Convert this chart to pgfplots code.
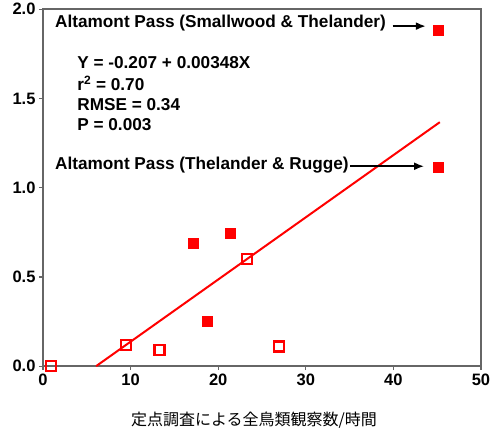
\documentclass[border=0pt]{standalone}
\usepackage{pgfplots}
\pgfplotsset{compat=1.18}
\usepackage{fontspec}
\setmainfont{Liberation Sans}
\newfontfamily\cjk{Noto Sans CJK JP}
\usetikzlibrary{arrows.meta}
\begin{document}
\begin{tikzpicture}
\begin{axis}[
  scale only axis,
  width=438pt, height=357pt,
  xmin=0, xmax=50, ymin=0, ymax=2,
  xtick={0,10,20,30,40,50},
  ytick={0,0.5,1,1.5,2},
  yticklabel style={/pgf/number format/.cd,fixed,fixed zerofill,precision=1},
  /pgf/number format/assume math mode=true,
  tick label style={font=\fontsize{16.5}{19}\selectfont\bfseries},
  tick pos=left, tick align=outside,
  major tick length=4pt,
  axis line style={draw=black!60, line width=1.5pt},
  every tick/.style={black!60, line width=1.2pt},
  clip=false,
  xlabel={\cjk 定点調査による全鳥類観察数/時間},
  xlabel style={font=\fontsize{16}{19}\selectfont, yshift=-20pt, xshift=-8pt},
]
% regression line
\addplot[red, line width=2pt] coordinates {(6.06,0) (45.3,1.367)};
% filled squares
\addplot[only marks, mark=square*, mark size=5pt, red, mark options={fill=red, draw=red}] coordinates {
 (17.2,0.69) (18.7,0.25) (21.4,0.745) (45.1,1.88) (45.1,1.115)};
% open squares
\addplot[only marks, mark=square, mark size=5pt, red, mark options={line width=2.2pt, fill=white}] coordinates {
 (0.9,0.0) (9.45,0.12) (13.3,0.09) (23.3,0.60) (26.9,0.11)};
\node[anchor=west, font=\fontsize{17.2}{20}\selectfont\bfseries, inner sep=0pt] at (axis cs:1.37,1.925) {Altamont Pass (Smallwood \& Thelander)};
\draw[black, line width=1.8pt, -{Latex[length=10pt,width=8pt]}] (axis cs:39.9,1.905) -- (axis cs:43.7,1.905);
\node[anchor=west, font=\fontsize{17.2}{20}\selectfont\bfseries, inner sep=0pt] at (axis cs:1.37,1.128) {Altamont Pass (Thelander \& Rugge)};
\draw[black, line width=1.8pt, -{Latex[length=10pt,width=8pt]}] (axis cs:35.1,1.12) -- (axis cs:43.5,1.12);
\node[anchor=west, font=\fontsize{17.2}{20}\selectfont\bfseries, inner sep=0pt] at (axis cs:3.9,1.703) {Y = -0.207 + 0.00348X};
\node[anchor=west, font=\fontsize{17.2}{20}\selectfont\bfseries, inner sep=0pt] at (axis cs:3.9,1.586) {r\textsuperscript{2} = 0.70};
\node[anchor=west, font=\fontsize{17.2}{20}\selectfont\bfseries, inner sep=0pt] at (axis cs:3.9,1.467) {RMSE = 0.34};
\node[anchor=west, font=\fontsize{17.2}{20}\selectfont\bfseries, inner sep=0pt] at (axis cs:3.9,1.355) {P = 0.003};
\end{axis}
\path (current axis.south west) ++(-43pt,-69pt) coordinate (bbsw);
\path (current axis.north east) ++(14pt,7pt) coordinate (bbne);
\useasboundingbox (bbsw) rectangle (bbne);
\end{tikzpicture}
\end{document}
